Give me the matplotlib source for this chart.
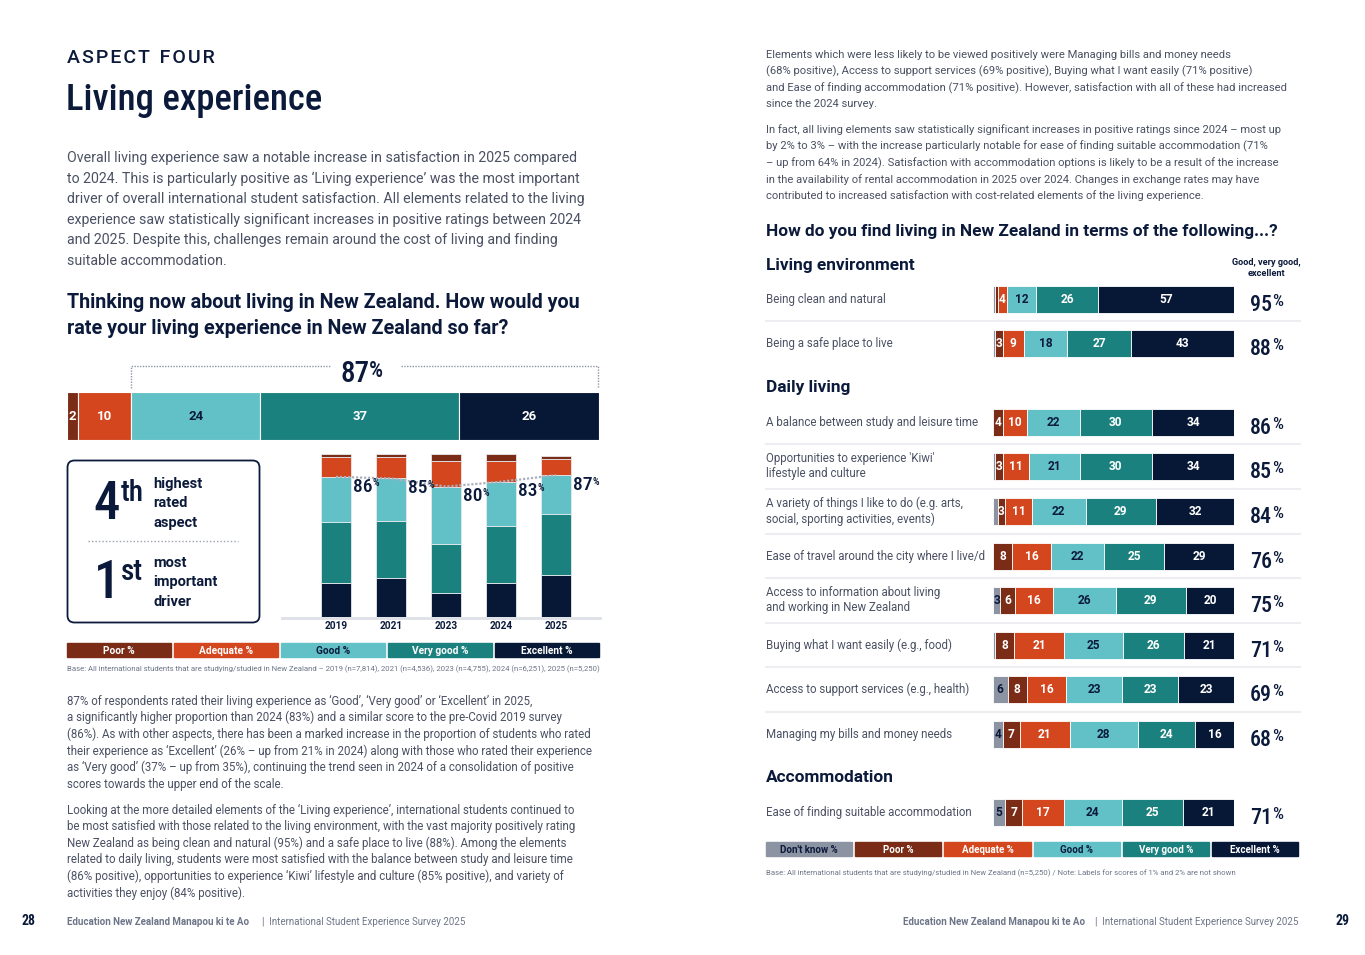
import os
import matplotlib
matplotlib.use("Agg")
import matplotlib.pyplot as plt
import matplotlib.font_manager as fm
from matplotlib.patches import Rectangle, FancyBboxPatch
import numpy as np

# --- data -------------------------------------------------------------
rating_labels = ["Poor %", "Adequate %", "Good %", "Very good %", "Excellent %"]
overall_2025 = [2, 10, 24, 37, 26]
overall_positive = 87

years = ["2019", "2021", "2023", "2024", "2025"]
poor_yr = [2, 2, 4, 4, 2]
adequate_yr = [12, 13, 16, 13, 10]
good_yr = [28, 26, 35, 27, 24]
very_good_yr = [37, 35, 30, 35, 37]
excellent_yr = [21, 24, 15, 21, 26]
positive_yr = [86, 85, 80, 83, 87]

group_names = ["Living environment", "Daily living", "Accommodation"]
item_group = [0, 0, 1, 1, 1, 1, 1, 1, 1, 1, 2]
items = [
    "Being clean and natural",
    "Being a safe place to live",
    "A balance between study and leisure time",
    "Opportunities to experience 'Kiwi'\nlifestyle and culture",
    "A variety of things I like to do (e.g. arts,\nsocial, sporting activities, events)",
    "Ease of travel around the city where I live/d",
    "Access to information about living\nand working in New Zealand",
    "Buying what I want easily (e.g., food)",
    "Access to support services (e.g., health)",
    "Managing my bills and money needs",
    "Ease of finding suitable accommodation",
]
item_labels = ["Don't know %", "Poor %", "Adequate %", "Good %", "Very good %", "Excellent %"]
dont_know = [1, 1, 0, 1, 2, 0, 3, 1, 6, 4, 5]
poor = [1, 3, 4, 3, 3, 8, 6, 8, 8, 7, 7]
adequate = [4, 9, 10, 11, 11, 16, 16, 21, 16, 21, 17]
good = [12, 18, 22, 21, 22, 22, 26, 25, 23, 28, 24]
very_good = [26, 27, 30, 30, 29, 25, 29, 26, 23, 24, 25]
excellent = [57, 43, 34, 34, 32, 29, 20, 21, 23, 16, 21]
positive = [95, 88, 86, 85, 84, 76, 75, 71, 69, 68, 71]

# --- style ------------------------------------------------------------
NAVY = "#0b1a3a"
BODY_C = "#4a5163"
FOOT_C = "#6d7588"
DK_C = "#8c93a3"
POOR_C = "#7a2c17"
ADEQ_C = "#d3461e"
GOOD_C = "#62c1c6"
VG_C = "#1a817e"
EXC_C = "#071837"
seg_colors = [POOR_C, ADEQ_C, GOOD_C, VG_C, EXC_C]
seg_text = ["white", "white", NAVY, "white", "white"]

BODY = ["Roboto", "DejaVu Sans"]


def find_font(prefs):
    files = [f.fname for f in fm.fontManager.ttflist]
    for p in prefs:
        for f in files:
            if p in os.path.basename(f).lower():
                return f
    return None


COND_FILE = find_font(["robotocondensed-medium", "robotocondensed-semibold", "robotocondensed-regular",
                       "liberationsansnarrow-bold", "liberationsansnarrow-regular",
                       "notosans-condensedmedium", "notosans-condensed.", "dejavusanscondensed.ttf"])
COND_BOLD = find_font(["robotocondensed-bold.", "robotocondensed-semibold",
                       "liberationsansnarrow-bold.", "notosans-condensedbold.",
                       "dejavusanscondensed-bold"]) or COND_FILE


def cond(size, bold=False):
    f = COND_BOLD if bold else COND_FILE
    if f:
        return fm.FontProperties(fname=f, size=size)
    return fm.FontProperties(family="DejaVu Sans", size=size * 0.8,
                             weight="bold" if bold else "normal")


W, H = 1365, 955
fig = plt.figure(figsize=(W / 100, H / 100), dpi=100)
ax = fig.add_axes([0, 0, 1, 1])
ax.set_xlim(0, W)
ax.set_ylim(H, 0)
ax.axis("off")
renderer = fig.canvas.get_renderer()


def px_axes(x0, y0, x1, y1):
    return fig.add_axes([x0 / W, 1 - y1 / H, (x1 - x0) / W, (y1 - y0) / H])


def txt(x, y, s, size, color=NAVY, weight="normal", family=BODY, ha="left", va="center", **kw):
    return ax.text(x, y, s, fontsize=size, color=color, fontweight=weight,
                   family=family, ha=ha, va=va, **kw)


def ctxt(axis, x, y, s, size, ha="left", va="baseline", color=NAVY, bold=False):
    return axis.text(x, y, s, fontproperties=cond(size, bold), ha=ha, va=va, color=color)


def sup(t, s, size, dx=0.0, dy=0.0):
    # small superscript glued to the top right of a text
    return t.axes.annotate(s, xy=(1, 1), xycoords=t, xytext=(dx, dy), textcoords="offset points",
                           ha="left", va="top", fontproperties=cond(size), color=NAVY)


def fit_width(t, width_px):
    bb = t.get_window_extent(renderer)
    t.set_fontsize(t.get_fontsize() * width_px / bb.width)


def lines(x, y0, step, rows, size, color=BODY_C):
    for i, r in enumerate(rows):
        txt(x, y0 + i * step, r, size, color=color)


# --- left page --------------------------------------------------------
txt(67, 58, "\u200a".join("ASPECT") + "  " + "\u200a".join("FOUR"), 14, weight="medium")
title = ctxt(ax, 66, 110, "Living experience", 36)
fit_width(title, 256)

lines(67, 158, 20.6, [
    "Overall living experience saw a notable increase in satisfaction in 2025 compared",
    "to 2024. This is particularly positive as \u2018Living experience\u2019 was the most important",
    "driver of overall international student satisfaction. All elements related to the living",
    "experience saw statistically significant increases in positive ratings between 2024",
    "and 2025. Despite this, challenges remain around the cost of living and finding",
    "suitable accommodation.",
], 10.2)

txt(67, 302, "Thinking now about living in New Zealand. How would you", 14.2, weight="bold")
txt(67, 328, "rate your living experience in New Zealand so far?", 14.2, weight="bold")

# overall bar
bx0, bx1 = 67, 599
bar_ax = px_axes(bx0, 392, bx1, 440)
tot = sum(overall_2025)
left = 0
for v, c, tc in zip(overall_2025, seg_colors, seg_text):
    bar_ax.barh(0, v, left=left, height=1, color=c, edgecolor="white", linewidth=0.8)
    bar_ax.text(left + v / 2, 0, str(v), ha="center", va="center", color=tc,
                fontsize=9.5, fontweight="bold", family=BODY)
    left += v
bar_ax.set_xlim(0, tot)
bar_ax.set_ylim(-0.5, 0.5)
bar_ax.axis("off")

# bracket over the positive part
pos_start = bx0 + sum(overall_2025[:2]) / tot * (bx1 - bx0)
ax.plot([pos_start, pos_start, 331], [388, 366, 366], color="#8e96a6", lw=1, ls=(0, (1, 1)))
ax.plot([401, bx1 - 1, bx1 - 1], [366, 366, 388], color="#8e96a6", lw=1, ls=(0, (1, 1)))
big = ctxt(ax, 340, 382, str(overall_positive), 30)
fit_width(big, 29)
sup(big, "%", 16)

# rank box
ax.add_patch(FancyBboxPatch((67.5, 460.5), 192, 162, boxstyle="round,pad=0,rounding_size=7",
                            fc="none", ec=NAVY, lw=1.3))
for y0, num, suf, words in [(519, "4", "th", ["highest", "rated", "aspect"]),
                            (598, "1", "st", ["most", "important", "driver"])]:
    t = ctxt(ax, 120, y0, num, 38, ha="right")
    sup(t, suf, 21, dx=0.5)
    for i, w in enumerate(words):
        txt(153, y0 - 35 + i * 19.3, w, 10.5, weight="bold")
ax.plot([88, 238], [541, 541], color="#9aa1ae", lw=1, ls=(0, (1, 1.5)))

# trend columns
col_ax = px_axes(308.5, 454, 583.5, 617)
x = np.arange(len(years))
bottom = np.zeros(len(years))
for vals, c in zip([excellent_yr, very_good_yr, good_yr, adequate_yr, poor_yr],
                   [EXC_C, VG_C, GOOD_C, ADEQ_C, POOR_C]):
    col_ax.bar(x, vals, bottom=bottom, width=0.53, color=c, edgecolor="#e6e9ee", linewidth=0.6)
    bottom += np.array(vals)
col_ax.plot(x, positive_yr, color="#aab1bd", lw=1.6, ls=(0, (1, 0.8)))
for xi, p in zip(x, positive_yr):
    t = ctxt(col_ax, xi + 0.31, p - 6, str(p), 14, va="center")
    sup(t, "%", 7.5, dy=-0.5)
col_ax.set_xlim(-0.5, len(years) - 0.5)
col_ax.set_ylim(0, 100)
col_ax.axis("off")
ax.plot([282, 600], [618, 618], color="#dde1e7", lw=2)
for xi, y in zip(x, years):
    txt(336 + xi * 55, 625.5, y, 7.3, weight="bold", ha="center")

# legend left
lw_ = (532 - 12) / 5
for i, (lab, c, tc) in enumerate(zip(rating_labels, seg_colors, seg_text)):
    x0 = 67 + i * (lw_ + 3)
    ax.add_patch(Rectangle((x0, 643), lw_, 14, color=c))
    txt(x0 + lw_ / 2, 650.5, lab, 7.3, color=tc, weight="bold", ha="center")
txt(67, 669, "Base: All international students that are studying/studied in New Zealand \u2013 "
    "2019 (n=7,814), 2021 (n=4,536), 2023 (n=4,755), 2024 (n=6,251), 2025 (n=5,250)",
    5.6, color=FOOT_C)

lines(67, 701, 16.6, [
    "87% of respondents rated their living experience as \u2018Good\u2019, \u2018Very good\u2019 or \u2018Excellent\u2019 in 2025,",
    "a significantly higher proportion than 2024 (83%) and a similar score to the pre-Covid 2019 survey",
    "(86%). As with other aspects, there has been a marked increase in the proportion of students who rated",
    "their experience as \u2018Excellent\u2019 (26% \u2013 up from 21% in 2024) along with those who rated their experience",
    "as \u2018Very good\u2019 (37% \u2013 up from 35%), continuing the trend seen in 2024 of a consolidation of positive",
    "scores towards the upper end of the scale.",
], 8.3)
lines(67, 810, 16.6, [
    "Looking at the more detailed elements of the \u2018Living experience\u2019, international students continued to",
    "be most satisfied with those related to the living environment, with the vast majority positively rating",
    "New Zealand as being clean and natural (95%) and a safe place to live (88%). Among the elements",
    "related to daily living, students were most satisfied with the balance between study and leisure time",
    "(86% positive), opportunities to experience \u2018Kiwi\u2019 lifestyle and culture (85% positive), and variety of",
    "activities they enjoy (84% positive).",
], 8.3)

# footers
ctxt(ax, 21, 925, "28", 10, bold=True)
txt(67, 922, "Education New Zealand Manapou ki te Ao", 7, color=FOOT_C, weight="bold")
txt(262, 922, "|  International Student Experience Survey 2025", 7, color=FOOT_C)
txt(1298, 922, "|  International Student Experience Survey 2025", 7, color=FOOT_C, ha="right")
txt(1085, 922, "Education New Zealand Manapou ki te Ao", 7, color=FOOT_C, weight="bold", ha="right")
ctxt(ax, 1335, 925, "29", 10, bold=True)

# --- right page -------------------------------------------------------
lines(766, 55, 16.4, [
    "Elements which were less likely to be viewed positively were Managing bills and money needs",
    "(68% positive), Access to support services (69% positive), Buying what I want easily (71% positive)",
    "and Ease of finding accommodation (71% positive). However, satisfaction with all of these had increased",
    "since the 2024 survey.",
], 8.15)
lines(766, 130, 16.4, [
    "In fact, all living elements saw statistically significant increases in positive ratings since 2024 \u2013 most up",
    "by 2% to 3% \u2013 with the increase particularly notable for ease of finding suitable accommodation (71%",
    "\u2013 up from 64% in 2024). Satisfaction with accommodation options is likely to be a result of the increase",
    "in the availability of rental accommodation in 2025 over 2024. Changes in exchange rates may have",
    "contributed to increased satisfaction with cost-related elements of the living experience.",
], 8.15)
txt(766, 231, "How do you find living in New Zealand in terms of the following...?", 12.4, weight="bold")

row_y = [299, 343, 422, 466, 511, 556, 600, 645, 689, 734, 812]
group_y = [265, 387, 777]
for g, gy in zip(group_names, group_y):
    txt(766, gy, g, 12.4, weight="bold")
txt(1266, 268, "Good, very good,\nexcellent", 6.6, weight="bold", ha="center", linespacing=1.15)

r_ax = px_axes(993, 0, 1234, H)
r_ax.set_ylim(H, 0)
r_ax.set_xlim(0, 100)
r_ax.axis("off")
series = np.array([dont_know, poor, adequate, good, very_good, excellent], dtype=float)
r_colors = [DK_C] + seg_colors
r_text = [NAVY] + seg_text
totals = series.sum(axis=0)
for j in range(len(items)):
    left = 0.0
    for k in range(series.shape[0]):
        v = series[k, j]
        w = v / totals[j] * 100
        if v > 0:
            r_ax.barh(row_y[j], w, left=left, height=27, color=r_colors[k],
                      edgecolor="white", linewidth=0.6)
        if v >= 3:
            r_ax.text(left + w / 2, row_y[j], str(int(v)), ha="center", va="center",
                      fontsize=8.6, color=r_text[k], fontweight="bold", family=BODY)
        left += w
    txt(766, row_y[j], items[j], 8.3, color=BODY_C, linespacing=1.25)
    t = ctxt(ax, 1250, row_y[j] + 12, str(positive[j]), 22)
    fit_width(t, 22)
    sup(t, "%", 12.5, dx=0.3)
    if j + 1 < len(items) and item_group[j + 1] == item_group[j]:
        ax.plot([766, 1300], [(row_y[j] + row_y[j + 1]) / 2] * 2, color="#eceef2", lw=1.5)

# legend right
rw = (532 - 15) / 6
for i, (lab, c, tc) in enumerate(zip(item_labels, r_colors, r_text)):
    x0 = 766 + i * (rw + 3)
    ax.add_patch(Rectangle((x0, 842), rw, 14, color=c))
    txt(x0 + rw / 2, 849.5, lab, 7, color=tc, weight="bold", ha="center")
txt(766, 873, "Base: All international students that are studying/studied in New Zealand (n=5,250) / "
    "Note: Labels for scores of 1% and 2% are not shown", 5.6, color=FOOT_C)

fig.savefig("out.png", dpi=100, facecolor="white")
